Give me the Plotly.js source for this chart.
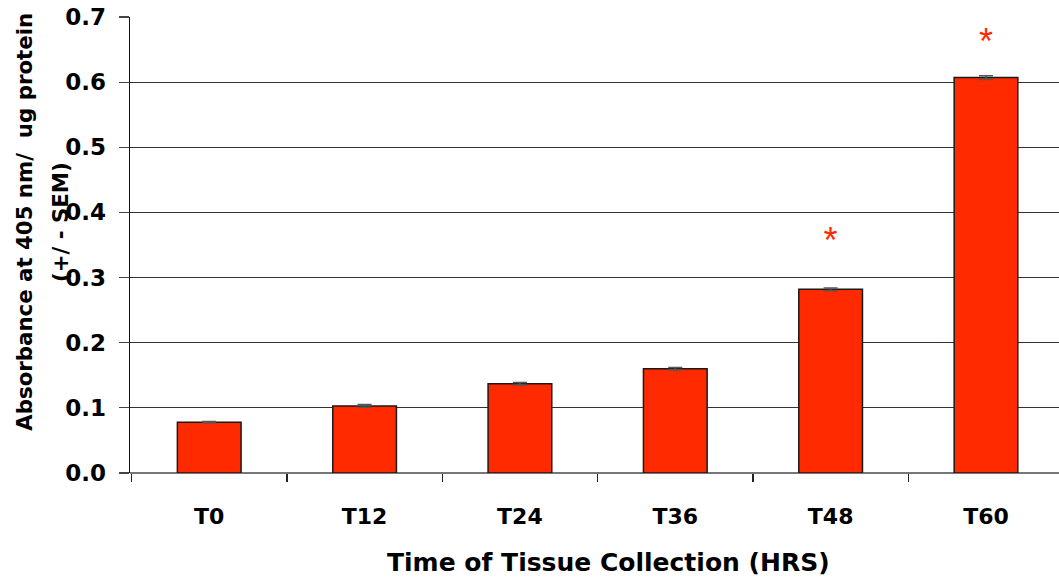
<!DOCTYPE html>
<html>
<head>
<meta charset="utf-8">
<script src="https://cdn.plot.ly/plotly-3.0.1.min.js"></script>
<style>html,body{margin:0;padding:0;background:#fff;}#chart{width:1059px;height:579px;}</style>
</head>
<body>
<div id="chart"></div>
<script>
// Data
var categories = ["T0", "T12", "T24", "T36", "T48", "T60"];
var absorbance = [0.078, 0.103, 0.137, 0.160, 0.282, 0.607];
var sem = [0.001, 0.002, 0.002, 0.002, 0.002, 0.003];
var sigMark = ["", "", "", "", "*", "*"];
var sigY = [null, null, null, null, 0.352, 0.657];
var yTicks = [0, 0.1, 0.2, 0.3, 0.4, 0.5, 0.6, 0.7];

var FONT = "DejaVu Sans, Liberation Sans, Arial, sans-serif";

var bars = {
  type: "bar",
  x: categories,
  y: absorbance,
  width: 0.41,
  marker: { color: "#ff2a00", line: { color: "#1a1a1a", width: 1.5 } },
  error_y: { type: "data", array: sem, visible: true, color: "#555555", thickness: 1.5, width: 7 },
  hoverinfo: "x+y",
  showlegend: false
};

var stars = {
  type: "scatter",
  mode: "text",
  x: categories,
  y: sigY,
  text: sigMark,
  textposition: "middle center",
  textfont: { family: "Liberation Sans, Arial, sans-serif", size: 36, color: "#ff2a00" },
  hoverinfo: "skip",
  showlegend: false
};

var layout = {
  width: 1059,
  height: 579,
  margin: { l: 130, r: 0, t: 17, b: 106 },
  paper_bgcolor: "#ffffff",
  plot_bgcolor: "#ffffff",
  font: { family: FONT, color: "#000000" },
  xaxis: {
    type: "category",
    range: [-0.51, 5.47],
    ticks: "outside",
    tickson: "boundaries",
    ticklen: 8,
    tickwidth: 1.5,
    tickcolor: "#222222",
    showgrid: false,
    showline: false,
    zeroline: false,
    tickfont: { family: FONT, size: 22, color: "#000000", weight: "bold" },
    ticklabelstandoff: 28
  },
  yaxis: {
    range: [0, 0.7],
    tickvals: yTicks,
    ticktext: yTicks.map(function (v) { return v.toFixed(1); }),
    ticks: "outside",
    ticklen: 10,
    tickwidth: 1.2,
    tickcolor: "#444444",
    showline: true,
    linecolor: "#111111",
    linewidth: 1.5,
    showgrid: true,
    gridcolor: "#333333",
    gridwidth: 1,
    zeroline: true,
    zerolinecolor: "#777777",
    zerolinewidth: 2.5,
    tickfont: { family: FONT, size: 23, color: "#000000", weight: "bold" },
    ticklabelstandoff: 8
  },
  annotations: [
    {
      text: "<b>Absorbance at 405 nm/  ug protein</b>",
      xref: "paper", yref: "paper",
      x: -0.1135, y: 0.55,
      xanchor: "center", yanchor: "middle",
      textangle: -90,
      showarrow: false,
      font: { family: FONT, size: 21.3, color: "#000000" }
    },
    {
      text: "<b>(+/ - SEM)</b>",
      xref: "paper", yref: "paper",
      x: -0.0755, y: 0.55,
      xanchor: "center", yanchor: "middle",
      textangle: -90,
      showarrow: false,
      font: { family: FONT, size: 21.3, color: "#000000" }
    },
    {
      text: "<b>Time of Tissue Collection (HRS)</b>",
      xref: "paper", yref: "paper",
      x: 0.515, y: -0.197,
      xanchor: "center", yanchor: "middle",
      showarrow: false,
      font: { family: FONT, size: 25, color: "#000000" }
    }
  ]
};

Plotly.newPlot("chart", [bars, stars], layout, { displayModeBar: false, staticPlot: true });
</script>
</body>
</html>
